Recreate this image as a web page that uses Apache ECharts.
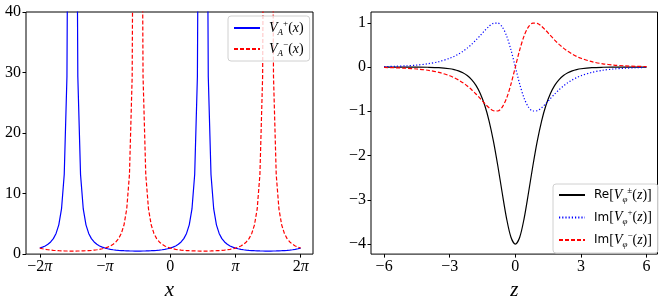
<!DOCTYPE html>
<html>
<head>
<meta charset="utf-8">
<script src="https://cdn.jsdelivr.net/npm/echarts@6/dist/echarts.min.js"></script>
<style>
  html, body { margin: 0; padding: 0; background: #fff; }
  #chart { width: 664px; height: 306px; }
</style>
</head>
<body>
<div id="chart"></div>
<script>
// ---- left panel: x in degrees, -2pi .. 2pi (step pi/24) ----
const xDeg = [-360, -352.5, -345, -337.5, -330, -322.5, -315, -307.5, -300, -292.5, -285, -277.5,
  -270, -262.5, -255, -247.5, -240, -232.5, -225, -217.5, -210, -202.5, -195, -187.5,
  -180, -172.5, -165, -157.5, -150, -142.5, -135, -127.5, -120, -112.5, -105, -97.5,
  -90, -82.5, -75, -67.5, -60, -52.5, -45, -37.5, -30, -22.5, -15, -7.5,
  0, 7.5, 15, 22.5, 30, 37.5, 45, 52.5, 60, 67.5, 75, 82.5,
  90, 97.5, 105, 112.5, 120, 127.5, 135, 142.5, 150, 157.5, 165, 172.5,
  180, 187.5, 195, 202.5, 210, 217.5, 225, 232.5, 240, 247.5, 255, 262.5,
  270, 277.5, 285, 292.5, 300, 307.5, 315, 322.5, 330, 337.5, 345, 352.5, 360];

// V_A^+(x), blows up near x = -3pi/2 and pi/2 (null = pole)
const vAPlus = [1, 1.150, 1.349, 1.620, 2, 2.556, 3.414, 4.839, 7.464, 13.14, 29.35, 116.9,
  null, 116.9, 29.35, 13.14, 7.464, 4.839, 3.414, 2.556, 2, 1.620, 1.349, 1.150,
  1, 0.885, 0.794, 0.723, 0.667, 0.622, 0.586, 0.558, 0.536, 0.520, 0.509, 0.502,
  0.5, 0.502, 0.509, 0.520, 0.536, 0.558, 0.586, 0.622, 0.667, 0.723, 0.794, 0.885,
  1, 1.150, 1.349, 1.620, 2, 2.556, 3.414, 4.839, 7.464, 13.14, 29.35, 116.9,
  null, 116.9, 29.35, 13.14, 7.464, 4.839, 3.414, 2.556, 2, 1.620, 1.349, 1.150,
  1, 0.885, 0.794, 0.723, 0.667, 0.622, 0.586, 0.558, 0.536, 0.520, 0.509, 0.502,
  0.5, 0.502, 0.509, 0.520, 0.536, 0.558, 0.586, 0.622, 0.667, 0.723, 0.794, 0.885,
  1];

// V_A^-(x), blows up near x = -pi/2 and 3pi/2
const vAMinus = [1, 0.885, 0.794, 0.723, 0.667, 0.622, 0.586, 0.558, 0.536, 0.520, 0.509, 0.502,
  0.5, 0.502, 0.509, 0.520, 0.536, 0.558, 0.586, 0.622, 0.667, 0.723, 0.794, 0.885,
  1, 1.150, 1.349, 1.620, 2, 2.556, 3.414, 4.839, 7.464, 13.14, 29.35, 116.9,
  null, 116.9, 29.35, 13.14, 7.464, 4.839, 3.414, 2.556, 2, 1.620, 1.349, 1.150,
  1, 0.885, 0.794, 0.723, 0.667, 0.622, 0.586, 0.558, 0.536, 0.520, 0.509, 0.502,
  0.5, 0.502, 0.509, 0.520, 0.536, 0.558, 0.586, 0.622, 0.667, 0.723, 0.794, 0.885,
  1, 1.150, 1.349, 1.620, 2, 2.556, 3.414, 4.839, 7.464, 13.14, 29.35, 116.9,
  null, 116.9, 29.35, 13.14, 7.464, 4.839, 3.414, 2.556, 2, 1.620, 1.349, 1.150,
  1];

// ---- right panel ----
const zVals = [-6, -5.5, -5, -4.5, -4, -3.5, -3, -2.8, -2.6, -2.4, -2.2, -2, -1.8, -1.6, -1.4, -1.2, -1,
  -0.8, -0.6, -0.4, -0.2, 0, 0.2, 0.4, 0.6, 0.8, 1, 1.2, 1.4, 1.6, 1.8, 2, 2.2, 2.4, 2.6, 2.8, 3,
  3.5, 4, 4.5, 5, 5.5, 6];

const reV = [-0.0001, -0.0003, -0.0007, -0.0020, -0.0054, -0.0146, -0.0395, -0.0587, -0.0873, -0.1295,
  -0.1917, -0.2826, -0.4142, -0.6021, -0.8646, -1.2201, -1.6799, -2.2362, -2.8463, -3.4226, -3.8442, -4,
  -3.8442, -3.4226, -2.8463, -2.2362, -1.6799, -1.2201, -0.8646, -0.6021, -0.4142, -0.2826, -0.1917,
  -0.1295, -0.0873, -0.0587, -0.0395, -0.0146, -0.0054, -0.0020, -0.0007, -0.0003, -0.0001];

const imVPlus = [0.0099, 0.0163, 0.0270, 0.0444, 0.0732, 0.1205, 0.1977, 0.2406, 0.2922, 0.3540,
  0.4272, 0.5125, 0.6094, 0.7152, 0.8232, 0.9208, 0.9871, 0.9930, 0.9061, 0.7029, 0.3870, 0,
  -0.3870, -0.7029, -0.9061, -0.9930, -0.9871, -0.9208, -0.8232, -0.7152, -0.6094, -0.5125, -0.4272,
  -0.3540, -0.2922, -0.2406, -0.1977, -0.1205, -0.0732, -0.0444, -0.0270, -0.0163, -0.0099];

const imVMinus = [-0.0099, -0.0163, -0.0270, -0.0444, -0.0732, -0.1205, -0.1977, -0.2406, -0.2922, -0.3540,
  -0.4272, -0.5125, -0.6094, -0.7152, -0.8232, -0.9208, -0.9871, -0.9930, -0.9061, -0.7029, -0.3870, 0,
  0.3870, 0.7029, 0.9061, 0.9930, 0.9871, 0.9208, 0.8232, 0.7152, 0.6094, 0.5125, 0.4272,
  0.3540, 0.2922, 0.2406, 0.1977, 0.1205, 0.0732, 0.0444, 0.0270, 0.0163, 0.0099];

// tick positions / labels
const leftXTicks = [-360, -180, 0, 180, 360];
const leftXLabels = ['−2{p|π}', '−{p|π}', '0', '{p|π}', '2{p|π}'];
const leftYTicks = [0, 10, 20, 30, 40];
const rightXTicks = [-6, -3, 0, 3, 6];
const rightYTicks = [-4, -3, -2, -1, 0, 1];

const serif = "'Liberation Serif', 'DejaVu Serif', serif";

function pairs(xs, ys) {
  return xs.map((x, i) => [x, ys[i]]);
}

function minusFmt(v) {
  return v < 0 ? '−' + (-v) : String(v);
}

const tickLabel = {
  fontFamily: serif,
  fontSize: 16,
  color: '#000',
  margin: 5
};

const legendRich = {
  v: {fontFamily: serif, fontStyle: 'italic', fontSize: 14, lineHeight: 18, color: '#000'},
  u: {fontFamily: serif, fontSize: 14, lineHeight: 18, color: '#000'},
  sp: {fontFamily: serif, fontSize: 9, verticalAlign: 'top', color: '#000'},
  sb: {fontFamily: serif, fontStyle: 'italic', fontSize: 9, verticalAlign: 'bottom', color: '#000'},
  t: {fontFamily: "'DejaVu Sans', sans-serif", fontSize: 12, lineHeight: 18, color: '#000'}
};

const legendText = {
  Vp: '{v|V}{sb|A}{sp|+}{u|(}{v|x}{u|)}',
  Vm: '{v|V}{sb|A}{sp|−}{u|(}{v|x}{u|)}',
  Re: '{t|Re}{u|[}{v|V}{sb|φ}{sp|±}{u|(}{v|z}{u|)]}',
  ImP: '{t|Im}{u|[}{v|V}{sb|φ}{sp|+}{u|(}{v|z}{u|)]}',
  ImM: '{t|Im}{u|[}{v|V}{sb|φ}{sp|−}{u|(}{v|z}{u|)]}'
};

function xAxisBase(idx, min, max, ticks, name) {
  return {
    type: 'value', gridIndex: idx, min: min, max: max,
    splitLine: {show: false},
    axisLine: {show: false, onZero: false},
    axisTick: {show: true, inside: false, length: 3.5, customValues: ticks,
      lineStyle: {color: '#000', width: 1}},
    name: name, nameLocation: 'middle', nameGap: 21,
    nameTextStyle: {fontFamily: serif, fontStyle: 'italic', fontSize: 21, color: '#000'}
  };
}

function yAxisBase(idx, min, max, ticks) {
  return {
    type: 'value', gridIndex: idx, min: min, max: max,
    splitLine: {show: false},
    axisLine: {show: false, onZero: false},
    axisTick: {show: true, inside: false, length: 3.5, customValues: ticks,
      lineStyle: {color: '#000', width: 1}},
    axisLabel: Object.assign({}, tickLabel, {customValues: ticks, formatter: minusFmt})
  };
}

// legend boxes shared look; no marker, only the line sample
function legendBase(names, left, top, gap, padding) {
  return {
    data: names, orient: 'vertical', left: left, top: top,
    itemWidth: 26, itemHeight: 14, itemGap: gap, padding: padding,
    backgroundColor: 'rgba(255,255,255,0.8)', borderColor: '#d0d0d0', borderWidth: 1, borderRadius: 3,
    selectedMode: false,
    itemStyle: {color: 'rgba(0,0,0,0)', borderWidth: 0, opacity: 0},
    formatter: name => legendText[name],
    textStyle: {padding: [0, 0, 0, 4], rich: legendRich}
  };
}

let chart = echarts.init(document.getElementById('chart'), null, {renderer: 'canvas'});

let xLeft = xAxisBase(0, -398, 394, leftXTicks, 'x');
xLeft.axisLabel = Object.assign({}, tickLabel, {
  customValues: leftXTicks,
  formatter: v => leftXLabels[leftXTicks.indexOf(v)],
  rich: {p: {fontFamily: serif, fontStyle: 'italic', fontSize: 16, color: '#000'}}
});

let xRight = xAxisBase(1, -6.6, 6.5, rightXTicks, 'z');
xRight.axisLabel = Object.assign({}, tickLabel, {customValues: rightXTicks, formatter: minusFmt});

chart.setOption({
  animation: false,
  backgroundColor: '#fff',
  grid: [
    {left: 26, top: 12, width: 287, height: 249, show: true, borderColor: '#000', borderWidth: 1, backgroundColor: 'transparent'},
    {left: 371, top: 12, width: 286.5, height: 249, show: true, borderColor: '#000', borderWidth: 1, backgroundColor: 'transparent'}
  ],
  xAxis: [xLeft, xRight],
  yAxis: [
    yAxisBase(0, 0, 40, leftYTicks),
    yAxisBase(1, -4.226, 1.243, rightYTicks)
  ],
  legend: [
    legendBase(['Vp', 'Vm'], 228, 16, 3, [3, 6, 3, 5]),
    legendBase(['Re', 'ImP', 'ImM'], 553, 184, 4.5, [2, 6, 4, 5])
  ],
  series: [
    {name: 'Vp', type: 'line', xAxisIndex: 0, yAxisIndex: 0, data: pairs(xDeg, vAPlus),
      symbol: 'none', clip: true, connectNulls: false,
      lineStyle: {color: '#0000ff', width: 1.2}, itemStyle: {color: '#0000ff'}},
    {name: 'Vm', type: 'line', xAxisIndex: 0, yAxisIndex: 0, data: pairs(xDeg, vAMinus),
      symbol: 'none', clip: true, connectNulls: false,
      lineStyle: {color: '#ff0000', width: 1.2, type: [4, 2]}, itemStyle: {color: '#ff0000'}},
    {name: 'Re', type: 'line', xAxisIndex: 1, yAxisIndex: 1, data: pairs(zVals, reV),
      symbol: 'none', smooth: 0.3, clip: true,
      lineStyle: {color: '#000', width: 1.2}, itemStyle: {color: '#000'}},
    {name: 'ImP', type: 'line', xAxisIndex: 1, yAxisIndex: 1, data: pairs(zVals, imVPlus),
      symbol: 'none', smooth: 0.3, clip: true,
      lineStyle: {color: '#0000ff', width: 1.2, type: [1.2, 2]}, itemStyle: {color: '#0000ff'}},
    {name: 'ImM', type: 'line', xAxisIndex: 1, yAxisIndex: 1, data: pairs(zVals, imVMinus),
      symbol: 'none', smooth: 0.3, clip: true,
      lineStyle: {color: '#ff0000', width: 1.2, type: [4, 2]}, itemStyle: {color: '#ff0000'}}
  ]
});
</script>
</body>
</html>
